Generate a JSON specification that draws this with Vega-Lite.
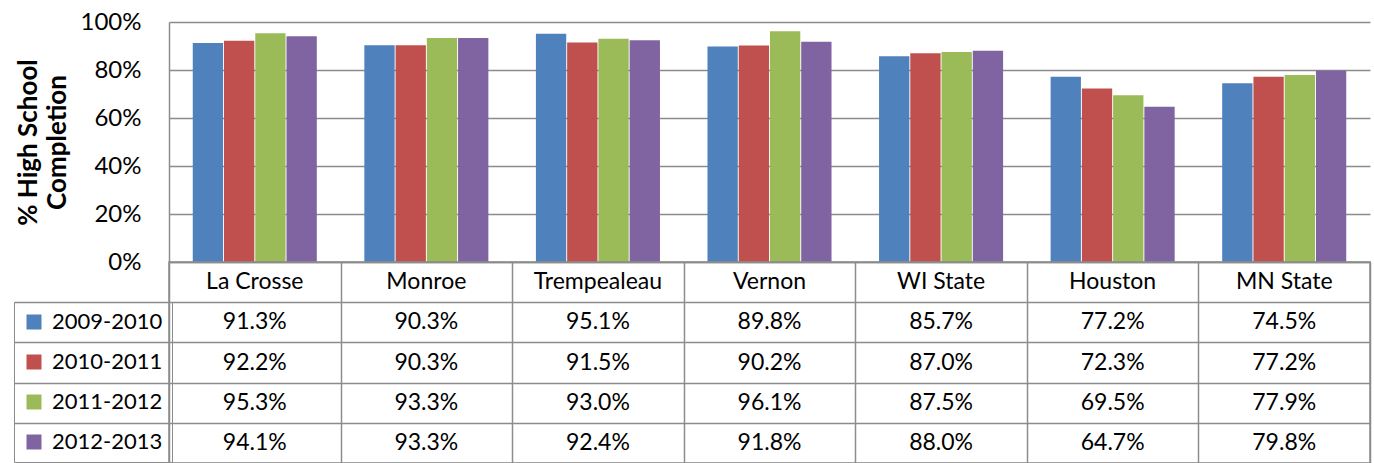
{
  "$schema": "https://vega.github.io/schema/vega-lite/v6.json",
  "padding": {"left": 12, "top": 10, "right": 3, "bottom": 0},
  "background": "white",
  "config": {"font": "Lato", "view": {"stroke": null}},
  "spacing": 0,
  "bounds": "flush",
  "resolve": {"scale": {"x": "independent", "y": "independent"}, "axis": {"x": "independent", "y": "independent"}},
  "datasets": {
    "main": [
      {"county": "La Crosse", "year": "2009-2010", "value": 0.913},
      {"county": "La Crosse", "year": "2010-2011", "value": 0.922},
      {"county": "La Crosse", "year": "2011-2012", "value": 0.953},
      {"county": "La Crosse", "year": "2012-2013", "value": 0.941},
      {"county": "Monroe", "year": "2009-2010", "value": 0.903},
      {"county": "Monroe", "year": "2010-2011", "value": 0.903},
      {"county": "Monroe", "year": "2011-2012", "value": 0.933},
      {"county": "Monroe", "year": "2012-2013", "value": 0.933},
      {"county": "Trempealeau", "year": "2009-2010", "value": 0.951},
      {"county": "Trempealeau", "year": "2010-2011", "value": 0.915},
      {"county": "Trempealeau", "year": "2011-2012", "value": 0.930},
      {"county": "Trempealeau", "year": "2012-2013", "value": 0.924},
      {"county": "Vernon", "year": "2009-2010", "value": 0.898},
      {"county": "Vernon", "year": "2010-2011", "value": 0.902},
      {"county": "Vernon", "year": "2011-2012", "value": 0.961},
      {"county": "Vernon", "year": "2012-2013", "value": 0.918},
      {"county": "WI State", "year": "2009-2010", "value": 0.857},
      {"county": "WI State", "year": "2010-2011", "value": 0.870},
      {"county": "WI State", "year": "2011-2012", "value": 0.875},
      {"county": "WI State", "year": "2012-2013", "value": 0.880},
      {"county": "Houston", "year": "2009-2010", "value": 0.772},
      {"county": "Houston", "year": "2010-2011", "value": 0.723},
      {"county": "Houston", "year": "2011-2012", "value": 0.695},
      {"county": "Houston", "year": "2012-2013", "value": 0.647},
      {"county": "MN State", "year": "2009-2010", "value": 0.745},
      {"county": "MN State", "year": "2010-2011", "value": 0.772},
      {"county": "MN State", "year": "2011-2012", "value": 0.779},
      {"county": "MN State", "year": "2012-2013", "value": 0.798}
    ]
  },
  "vconcat": [
    {
      "width": 1201,
      "height": 240,
      "data": {"name": "main"},
      "mark": {"type": "bar"},
      "encoding": {
        "x": {
          "field": "county", "type": "nominal",
          "sort": ["La Crosse", "Monroe", "Trempealeau", "Vernon", "WI State", "Houston", "MN State"],
          "scale": {"paddingInner": 0.277, "paddingOuter": 0.1385},
          "axis": null
        },
        "xOffset": {"field": "year", "type": "nominal", "scale": {"paddingInner": 0.03}},
        "y": {
          "field": "value", "type": "quantitative",
          "scale": {"domain": [0, 1], "nice": false},
          "axis": {
            "values": [0, 0.2, 0.4, 0.6, 0.8, 1],
            "format": ".0%",
            "grid": true, "gridColor": "#8c8c8c", "gridWidth": 1.5,
            "domainColor": "#8c8c8c", "domainWidth": 1.5,
            "ticks": false, "tickSize": 0,
            "labelPadding": 28, "labelFontSize": 24, "labelColor": "black",
            "title": ["% High School", "Completion"],
            "titleFontSize": 26, "titleFontWeight": "bold", "titleColor": "black",
            "titleLineHeight": 29,
            "titlePadding": 10
          }
        },
        "color": {
          "field": "year", "type": "nominal",
          "scale": {
            "domain": ["2009-2010", "2010-2011", "2011-2012", "2012-2013"],
            "range": ["#4F81BD", "#C0504D", "#9BBB59", "#8064A2"]
          },
          "legend": {
            "orient": "none", "legendX": -155, "legendY": 280,
            "title": null, "symbolType": "square", "symbolSize": 225,
            "symbolStrokeWidth": 0, "labelFontSize": 22, "labelColor": "black",
            "labelOffset": 7, "padding": 9, "rowPadding": 18,
            "strokeColor": "#8c8c8c"
          }
        }
      }
    },
    {
      "width": 1201,
      "height": 201,
      "data": {"name": "main"},
      "view": {"stroke": "#8c8c8c", "strokeWidth": 1.5},
      "encoding": {
        "x": {
          "field": "county", "type": "nominal",
          "sort": ["La Crosse", "Monroe", "Trempealeau", "Vernon", "WI State", "Houston", "MN State"],
          "scale": {"paddingInner": 0, "paddingOuter": 0},
          "axis": {"tickBand": "extent", "grid": true, "gridColor": "#8c8c8c", "gridWidth": 1.5, "labels": false, "ticks": false, "domain": false, "title": null}
        }
      },
      "layer": [
        {
          "mark": {"type": "text", "fontSize": 23, "color": "black", "align": "center", "baseline": "middle"},
          "encoding": {
            "y": {
              "field": "year", "type": "nominal",
              "scale": {"domain": ["cat", "2009-2010", "2010-2011", "2011-2012", "2012-2013"], "paddingInner": 0, "paddingOuter": 0},
              "axis": {
                "tickBand": "extent", "grid": true, "gridColor": "#8c8c8c", "gridWidth": 1.5,
                "labels": false, "domain": false, "ticks": true, "tickSize": 155, "tickWidth": 1.5,
                "tickColor": "#8c8c8c",
                "tickOpacity": {"condition": {"test": "datum.extra", "value": 0}, "value": 1},
                "title": null
              }
            },
            "text": {"field": "value", "type": "quantitative", "format": ".1%"}
          }
        },
        {
          "transform": [{"filter": "datum.year === '2009-2010'"}],
          "mark": {"type": "text", "fontSize": 23, "color": "black", "align": "center", "baseline": "middle"},
          "encoding": {
            "y": {"datum": "cat", "type": "nominal"},
            "text": {"field": "county", "type": "nominal"}
          }
        }
      ]
    }
  ]
}
